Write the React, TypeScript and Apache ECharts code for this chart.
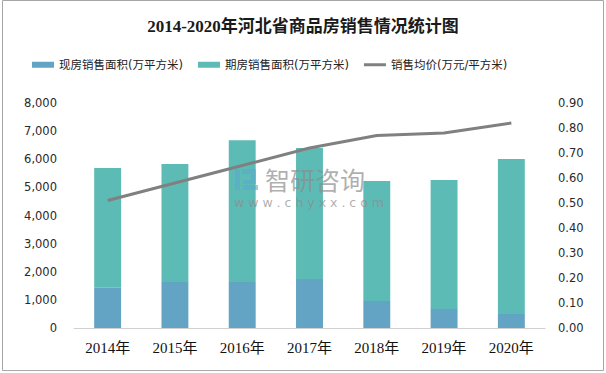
import React, { useEffect, useRef } from "react";
import * as echarts from "echarts";

const categories = ["2014年", "2015年", "2016年", "2017年", "2018年", "2019年", "2020年"];
const spotArea = [1430, 1640, 1640, 1740, 960, 680, 500];
const futureArea = [4260, 4190, 5040, 4660, 4270, 4580, 5510];
const avgPrice = [0.51, 0.58, 0.65, 0.72, 0.77, 0.78, 0.82];
const seriesNames = ["现房销售面积(万平方米)", "期房销售面积(万平方米)", "销售均价(万元/平方米)"];
const titleText = "2014-2020年河北省商品房销售情况统计图";

export default function App() {
  const ref = useRef<HTMLDivElement>(null);
  useEffect(() => {
    if (!ref.current) return;
    const chart = echarts.init(ref.current, null, { renderer: "svg" });
    const labelFont = "'DejaVu Sans', Verdana, sans-serif";
    const logoFill = "rgba(90,170,205,0.6)";
    const wmFill = "rgba(140,140,140,0.7)";
    chart.setOption({
      animation: false,
      backgroundColor: "#ffffff",
      title: {
        text: titleText,
        left: "center",
        top: 13,
        textStyle: {
          fontFamily: "'Liberation Serif', 'Noto Sans CJK SC', serif",
          fontWeight: "bold",
          fontSize: 17,
          color: "#1a1a1a",
        },
      },
      legend: {
        left: 27,
        top: 54,
        itemWidth: 22,
        itemHeight: 6,
        itemGap: 15,
        textStyle: {
          fontFamily: "'DejaVu Sans', 'Noto Sans CJK SC', sans-serif",
          fontSize: 11.5,
          color: "#222",
        },
        data: [
          { name: seriesNames[0], icon: "rect" },
          { name: seriesNames[1], icon: "rect" },
          { name: seriesNames[2], icon: "path://M0,0h22v3h-22z" },
        ],
      },
      grid: { left: 74, right: 61, top: 103, bottom: 45 },
      xAxis: {
        type: "category",
        data: categories,
        axisLine: { show: true, lineStyle: { color: "#d0d0d0", width: 1 } },
        axisTick: { show: false },
        axisLabel: {
          margin: 12,
          fontFamily: "'Liberation Serif', 'Noto Sans CJK SC', serif",
          fontSize: 15,
          color: "#111",
        },
      },
      yAxis: [
        {
          type: "value",
          min: 0,
          max: 8000,
          interval: 1000,
          splitLine: { show: false },
          axisLine: { show: false },
          axisTick: { show: false },
          axisLabel: {
            margin: 17,
            fontFamily: labelFont,
            fontSize: 11.5,
            color: "#2a2a2a",
            formatter: (v: number) => v.toLocaleString("en-US"),
          },
        },
        {
          type: "value",
          min: 0,
          max: 0.9,
          interval: 0.1,
          splitLine: { show: false },
          axisLine: { show: false },
          axisTick: { show: false },
          axisLabel: {
            margin: 13,
            fontFamily: labelFont,
            fontSize: 11.5,
            color: "#2a2a2a",
            formatter: (v: number) => v.toFixed(2),
          },
        },
      ],
      series: [
        {
          name: seriesNames[0],
          type: "bar",
          stack: "area",
          barWidth: "40%",
          itemStyle: { color: "#63a3c3" },
          data: spotArea,
        },
        {
          name: seriesNames[1],
          type: "bar",
          stack: "area",
          barWidth: "40%",
          itemStyle: { color: "#5dbbb5" },
          data: futureArea,
        },
        {
          name: seriesNames[2],
          type: "line",
          yAxisIndex: 1,
          symbol: "none",
          lineStyle: { color: "#808080", width: 3 },
          itemStyle: { color: "#808080" },
          data: avgPrice,
          z: 3,
        },
      ],
      graphic: [
        {
          type: "rect",
          shape: { x: 2.5, y: 0.5, width: 601, height: 370 },
          style: { fill: "none", stroke: "#a6a6a6", lineWidth: 1 },
          silent: true,
        },
        { type: "rect", z: 100, silent: true, shape: { x: 235, y: 169, width: 5, height: 21 }, style: { fill: logoFill } },
        { type: "rect", z: 100, silent: true, shape: { x: 242, y: 169, width: 14, height: 5 }, style: { fill: logoFill } },
        { type: "rect", z: 100, silent: true, shape: { x: 251, y: 174, width: 5, height: 6 }, style: { fill: logoFill } },
        { type: "rect", z: 100, silent: true, shape: { x: 243, y: 180, width: 13, height: 4 }, style: { fill: logoFill } },
        { type: "rect", z: 100, silent: true, shape: { x: 243, y: 185, width: 15, height: 5 }, style: { fill: logoFill } },
        {
          type: "text",
          z: 100,
          silent: true,
          x: 265,
          y: 166,
          style: {
            text: "智研咨询",
            font: "25px 'Noto Sans CJK SC', sans-serif",
            fill: wmFill,
          },
        },
        {
          type: "text",
          z: 100,
          silent: true,
          x: 234,
          y: 196,
          style: {
            text: "w w w . c h y x x . c o m",
            font: "12.5px 'DejaVu Sans', sans-serif",
            fill: wmFill,
          },
        },
      ],
    });
    return () => chart.dispose();
  }, []);
  return (
    <div
      ref={ref}
      style={{ position: "fixed", left: 0, top: 0, width: 606, height: 373 }}
    />
  );
}
